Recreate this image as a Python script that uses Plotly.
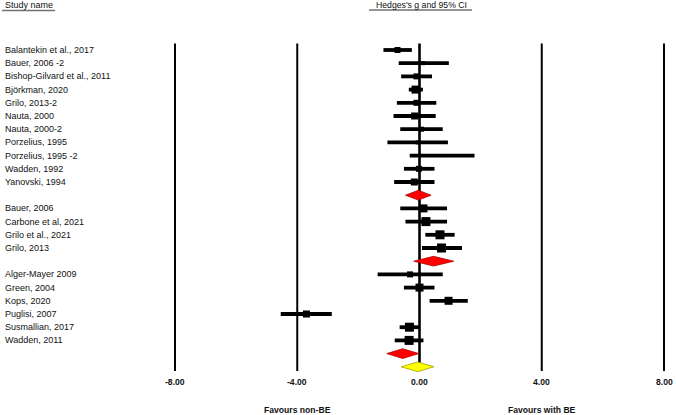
import plotly.graph_objects as go

# ---- data ----
study_names = [
    "Balantekin et al., 2017", "Bauer, 2006 -2", "Bishop-Gilvard et al., 2011",
    "Björkman, 2020", "Grilo, 2013-2", "Nauta, 2000", "Nauta, 2000-2",
    "Porzelius, 1995", "Porzelius, 1995 -2", "Wadden, 1992", "Yanovski, 1994",
    "",
    "Bauer, 2006", "Carbone et al, 2021", "Grilo et al., 2021", "Grilo, 2013",
    "",
    "Alger-Mayer 2009", "Green, 2004", "Kops, 2020", "Puglisi, 2007",
    "Susmallian, 2017", "Wadden, 2011",
    "",
    "",
]
row_type = ["s"] * 11 + ["sub"] + ["s"] * 4 + ["sub"] + ["s"] * 6 + ["sub"] + ["all"]

hedges_g = [-0.72, 0.12, -0.10, -0.13, -0.10, -0.16, 0.07, -0.06, 0.74, -0.02, -0.17,
            -0.04,
            0.13, 0.21, 0.67, 0.72,
            0.46,
            -0.31, 0.00, 0.95, -3.70, -0.33, -0.34,
            -0.55,
            -0.06]
ci_low = [-1.18, -0.68, -0.60, -0.35, -0.74, -0.85, -0.63, -1.05, -0.32, -0.51, -0.83,
          -0.46,
          -0.63, -0.46, 0.19, 0.08,
          -0.19,
          -1.37, -0.51, 0.33, -4.54, -0.65, -0.81,
          -1.07,
          -0.60]
ci_high = [-0.25, 0.96, 0.41, 0.11, 0.55, 0.53, 0.76, 0.93, 1.80, 0.49, 0.49,
           0.38,
           0.90, 0.90, 1.15, 1.39,
           1.12,
           0.76, 0.49, 1.58, -2.87, 0.00, 0.13,
           -0.02,
           0.47]
weights = [6, 4, 6, 8, 6, 7, 5, 4, 3, 6, 7,
           0,
           8, 9, 9, 9,
           0,
           6, 8, 8, 7, 9, 9,
           0,
           0]

tick_values = [-8, -4, 0, 4, 8]
tick_labels = ["-8.00", "-4.00", "0.00", "4.00", "8.00"]
favour_labels = ["Favours non-BE", "Favours with BE"]
favour_positions = [-4, 4]

# ---- layout geometry ----
W, H = 676, 415
px_per_unit = (664 - 175) / 16.0
xmin = -8 - 175 / px_per_unit
xmax = xmin + W / px_per_unit
row_h = 13.2
y0_px = 50
ytop = -y0_px / row_h
ybot = (H - y0_px) / row_h


def yrow(px):
    return (px - y0_px) / row_h


def xp(px):
    return px / W


def yp(px):
    return 1 - px / H


fig = go.Figure()

# vertical reference lines
for tv in tick_values:
    fig.add_shape(type="line", x0=tv, x1=tv, y0=yrow(43.5), y1=yrow(371),
                  xref="x", yref="y",
                  line=dict(color="black", width=2.6 if tv == 0 else 2), layer="below")

# study rows
idx = [i for i, t in enumerate(row_type) if t == "s"]
fig.add_trace(go.Scatter(
    x=[hedges_g[i] for i in idx],
    y=idx,
    mode="markers",
    marker=dict(symbol="square", color="black", opacity=1,
                size=[weights[i] for i in idx], line=dict(width=0)),
    error_x=dict(type="data", symmetric=False,
                 array=[ci_high[i] - hedges_g[i] for i in idx],
                 arrayminus=[hedges_g[i] - ci_low[i] for i in idx],
                 thickness=3.8, width=0, color="black"),
    showlegend=False, hoverinfo="skip",
))

# diamonds
half_h = 0.37
for i, t in enumerate(row_type):
    if t == "s":
        continue
    fill = "#ff0000" if t == "sub" else "#ffff00"
    edge = "#b00000" if t == "sub" else "#a0a000"
    fig.add_trace(go.Scatter(
        x=[ci_low[i], hedges_g[i], ci_high[i], hedges_g[i], ci_low[i]],
        y=[i, i - half_h, i, i + half_h, i],
        mode="lines", fill="toself", fillcolor=fill,
        line=dict(color=edge, width=0.8),
        showlegend=False, hoverinfo="skip",
    ))

font_main = "Liberation Sans, Arial, sans-serif"

# study names
for i, name in enumerate(study_names):
    if name:
        fig.add_annotation(x=xp(3), xref="paper", y=i, yref="y", text=name,
                           showarrow=False, xanchor="left", yanchor="middle",
                           font=dict(family=font_main, size=9, color="#111111"))

# headers
fig.add_annotation(x=xp(3), xref="paper", y=yp(5), yref="paper", text="Study name",
                   showarrow=False, xanchor="left", yanchor="middle",
                   font=dict(family=font_main, size=9, color="#111111"))
fig.add_annotation(x=0.07, xref="x", y=yp(5), yref="paper", text="Hedges's g and 95% CI",
                   showarrow=False, xanchor="center", yanchor="middle",
                   font=dict(family=font_main, size=8.7, color="#111111"))
fig.add_shape(type="line", xref="paper", yref="paper", x0=xp(2), x1=xp(55),
              y0=yp(10.5), y1=yp(10.5), line=dict(color="#707070", width=1.6))
fig.add_shape(type="line", xref="paper", yref="paper", x0=xp(369), x1=xp(472),
              y0=yp(10), y1=yp(10), line=dict(color="#707070", width=1.6))

# tick labels
for tv, tl in zip(tick_values, tick_labels):
    fig.add_annotation(x=tv, xref="x", y=yrow(382), yref="y", text="<b>" + tl + "</b>",
                       showarrow=False, xanchor="center", yanchor="middle",
                       font=dict(family=font_main, size=8.6, color="#111111"))
for fp, fl in zip(favour_positions, favour_labels):
    fig.add_annotation(x=fp, xref="x", y=yrow(409.5), yref="y", text="<b>" + fl + "</b>",
                       showarrow=False, xanchor="center", yanchor="middle",
                       font=dict(family=font_main, size=8.6, color="#111111"))

fig.update_layout(
    width=W, height=H,
    margin=dict(l=0, r=0, t=0, b=0),
    paper_bgcolor="white", plot_bgcolor="white",
    xaxis=dict(range=[xmin, xmax], visible=False, fixedrange=True),
    yaxis=dict(range=[ybot, ytop], visible=False, fixedrange=True),
    showlegend=False,
)

fig.write_html("out.html", config={"displayModeBar": False},
               post_script="document.body.style.margin='0px';document.body.style.overflow='hidden';")
